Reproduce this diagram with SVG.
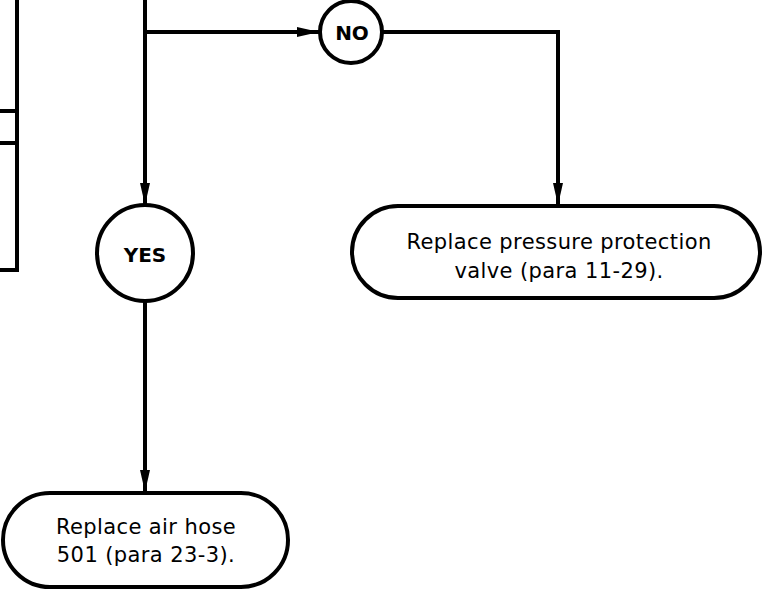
<svg xmlns="http://www.w3.org/2000/svg" width="763" height="592" viewBox="0 0 763 592">
<style>
.ln{fill:none;stroke:#000;stroke-width:4}
.nd{fill:#fff;stroke:#000;stroke-width:4}
.t{font-family:"DejaVu Sans",sans-serif;font-size:21px;letter-spacing:0.4px;fill:#000;text-anchor:middle}
.b{font-family:"DejaVu Sans",sans-serif;font-size:20px;font-weight:bold;fill:#000;text-anchor:middle}
</style>
<defs>
<marker id="ah" viewBox="0 0 22 10" refX="22" refY="5" markerWidth="22" markerHeight="10" markerUnits="userSpaceOnUse" orient="auto">
<path d="M0,0 L22,5 L0,10 Z" fill="#000"/>
</marker>
</defs>
<g id="partial-box">
<path class="ln" d="M17,0 V270 H0 M0,111 H17 M0,143 H17"/>
</g>
<g id="connectors">
<path class="ln" d="M145,0 V205" marker-end="url(#ah)"/>
<path class="ln" d="M145,32 H319" marker-end="url(#ah)"/>
<path class="ln" d="M382,32 H558 V205" marker-end="url(#ah)"/>
<path class="ln" d="M145,301 V492" marker-end="url(#ah)"/>
</g>
<g id="no">
<circle class="nd" cx="351" cy="32" r="31"/>
<text class="b" x="352" y="39.5">NO</text>
</g>
<g id="yes">
<circle class="nd" cx="145" cy="253" r="48"/>
<text class="b" x="145" y="261.5">YES</text>
</g>
<g id="replace-valve">
<rect class="nd" x="352" y="206" width="408" height="92" rx="46"/>
<text class="t" x="559" y="249">Replace pressure protection</text>
<text class="t" x="559" y="278">valve (para 11-29).</text>
</g>
<g id="replace-hose">
<rect class="nd" x="3" y="493" width="285" height="94" rx="47"/>
<text class="t" x="146" y="534">Replace air hose</text>
<text class="t" x="146" y="562">501 (para 23-3).</text>
</g>
</svg>
